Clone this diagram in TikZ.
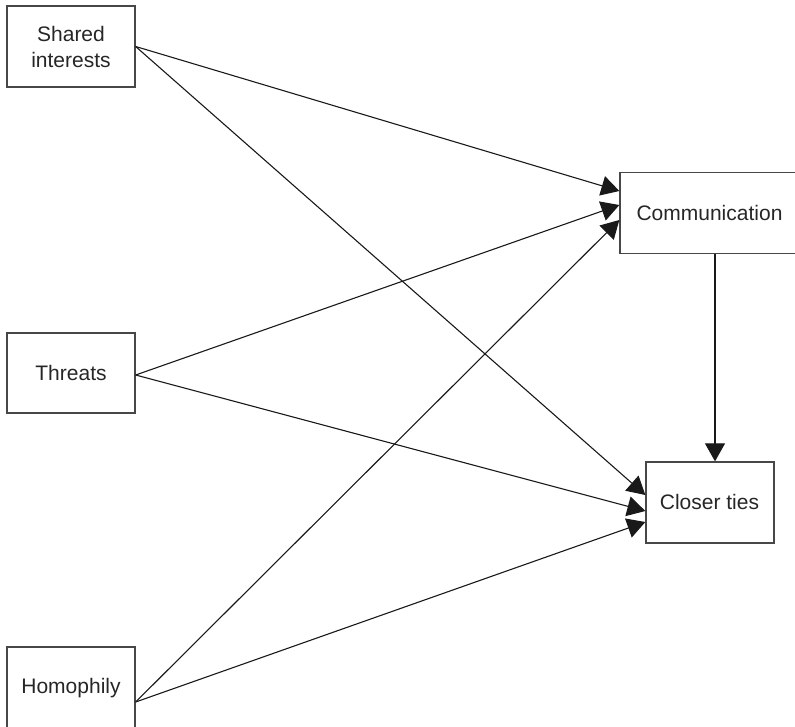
\documentclass[tikz,border=0pt]{standalone}
\usepackage{fontspec}
\setmainfont{Liberation Sans}
\usetikzlibrary{arrows.meta,calc}
\begin{document}
\begin{tikzpicture}[x=1pt,y=-1pt,
  box/.style={draw=black!72, line width=1.3pt, rectangle, inner sep=0pt},
  lbl/.style={font=\fontsize{21}{26}\selectfont, text=black!85, align=center, inner sep=0pt},
  link/.style={draw=black!90, line width=1.1pt, -{Triangle[length=18pt,width=20pt]}}]
\useasboundingbox (0,0) rectangle (795,726);
\clip (0,0) rectangle (795,726);

% causes on the left
\node[box, minimum width=128pt, minimum height=81pt] (si) at (71,46.5) {};
\node[lbl] (sitext) at (71,46.5) {Shared\\interests};
\node[box, minimum width=128pt, minimum height=80pt] (th) at (71,373) {};
\node[lbl] (thtext) at (71,373) {Threats};
\node[box, minimum width=128pt, minimum height=110pt] (ho) at (71,702) {};
\node[lbl] (hotext) at (71,688) {Homophily};

% outcomes on the right
\node[box, minimum width=190pt, minimum height=81pt] (comm) at (715,213) {};
\node[lbl] (commtext) at (709.5,213) {Communication};
\node[box, minimum width=128pt, minimum height=81pt] (ct) at (710,502.5) {};
\node[lbl] (cttext) at (709.5,502) {Closer ties};

% paths into Communication
\draw[link] (si.east) -- ($(comm.west)+(0,-22)$);
\draw[link] ($(th.east)+(0,2)$) -- ($(comm.west)+(0,-8)$);
\draw[link] (ho.east) -- ($(comm.west)+(0,7)$);

% paths into Closer ties
\draw[link] (si.east) -- ($(ct.west)+(0,-7.5)$);
\draw[link] ($(th.east)+(0,2)$) -- ($(ct.west)+(0,8.5)$);
\draw[link] (ho.east) -- ($(ct.west)+(0,19.5)$);

% Communication leads to Closer ties
\draw[link] (comm.south) -- (ct.north -| comm.south);
\end{tikzpicture}
\end{document}
